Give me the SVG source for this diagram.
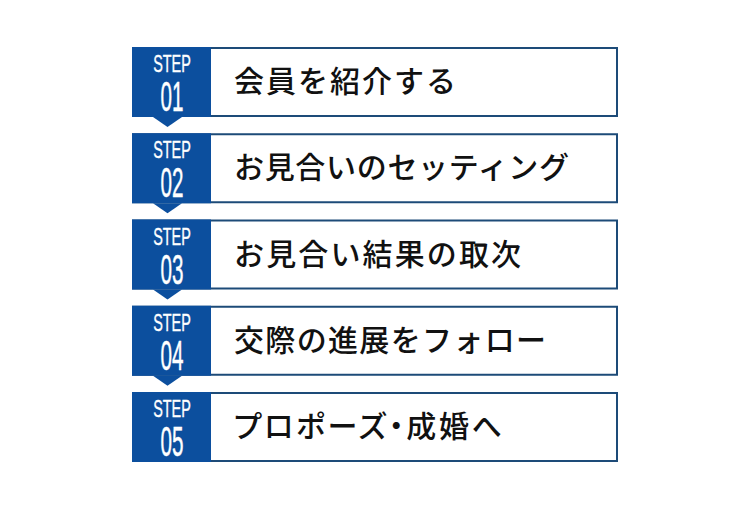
<svg xmlns="http://www.w3.org/2000/svg" width="750" height="510" viewBox="0 0 750 510">
<style>
.box{fill:#fff;stroke:#1d4b78;stroke-width:2}
.badge{fill:#0c4f9e}
.step{font-family:"Liberation Sans",Arial,sans-serif;font-size:24px;fill:#fff;text-anchor:middle;stroke:#fff;stroke-width:0.4}
.num{font-family:"Liberation Sans",Arial,sans-serif;font-size:43px;fill:#fff;text-anchor:middle;stroke:#fff;stroke-width:0.5}
.lbl{font-family:"Noto Sans CJK JP","Noto Sans",sans-serif;font-size:30px;font-weight:500;fill:#111}
.palt{font-feature-settings:"palt"}
</style>
<rect width="750" height="510" fill="#fff"/>
<g id="connectors">
<polygon class="badge" points="153,117 182,117 167.5,127"/>
<polygon class="badge" points="153,203.25 182,203.25 167.5,213.25"/>
<polygon class="badge" points="153,289.5 182,289.5 167.5,299.5"/>
<polygon class="badge" points="153,375.75 182,375.75 167.5,385.75"/>
</g>
<g id="step1">
<rect class="box" x="133" y="48" width="484" height="68"/>
<rect class="badge" x="132" y="47" width="79" height="70"/>
<text class="step" transform="translate(172,72) scale(0.6,1)">STEP</text>
<text class="num" transform="translate(172,111) scale(0.48,1)">01</text>
<text class="lbl" x="234" y="92" textLength="222" lengthAdjust="spacing">会員を紹介する</text>
</g>
<g id="step2">
<rect class="box" x="133" y="134.25" width="484" height="68"/>
<rect class="badge" x="132" y="133.25" width="79" height="70"/>
<text class="step" transform="translate(172,158.25) scale(0.6,1)">STEP</text>
<text class="num" transform="translate(172,197.25) scale(0.48,1)">02</text>
<text class="lbl" x="234" y="178.25" textLength="335" lengthAdjust="spacing">お見合いのセッティング</text>
</g>
<g id="step3">
<rect class="box" x="133" y="220.5" width="484" height="68"/>
<rect class="badge" x="132" y="219.5" width="79" height="70"/>
<text class="step" transform="translate(172,244.5) scale(0.6,1)">STEP</text>
<text class="num" transform="translate(172,283.5) scale(0.48,1)">03</text>
<text class="lbl" x="234" y="265" textLength="287" lengthAdjust="spacing">お見合い結果の取次</text>
</g>
<g id="step4">
<rect class="box" x="133" y="306.75" width="484" height="68"/>
<rect class="badge" x="132" y="305.75" width="79" height="70"/>
<text class="step" transform="translate(172,330.75) scale(0.6,1)">STEP</text>
<text class="num" transform="translate(172,369.75) scale(0.48,1)">04</text>
<text class="lbl" x="234" y="351" textLength="312" lengthAdjust="spacing">交際の進展をフォロー</text>
</g>
<g id="step5">
<rect class="box" x="133" y="393" width="484" height="68"/>
<rect class="badge" x="132" y="392" width="79" height="70"/>
<text class="step" transform="translate(172,417) scale(0.6,1)">STEP</text>
<text class="num" transform="translate(172,456) scale(0.48,1)">05</text>
<text class="lbl palt" x="234" y="437" textLength="268" lengthAdjust="spacing">プロポーズ・成婚へ</text>
</g>
</svg>
